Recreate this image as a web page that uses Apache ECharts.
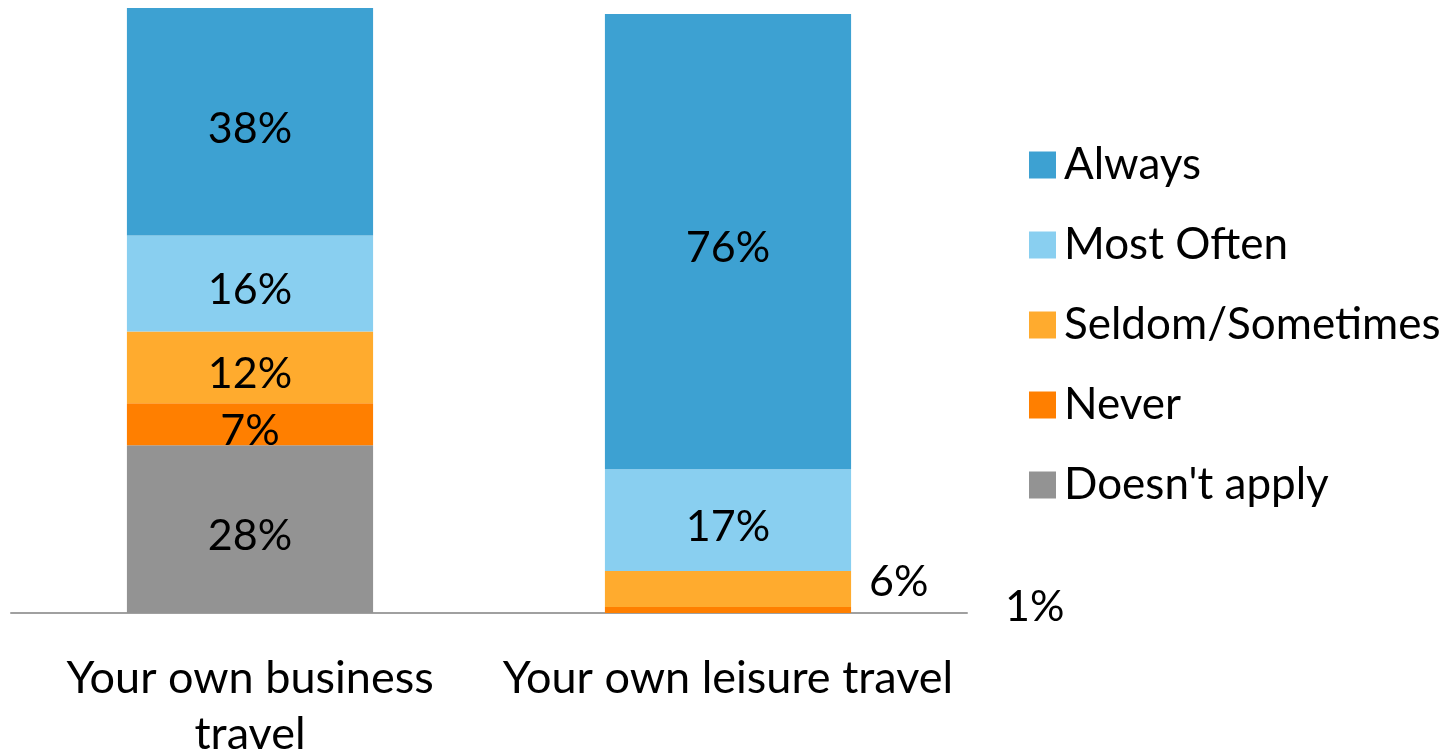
<!DOCTYPE html>
<html>
<head>
<meta charset="utf-8">
<script src="https://cdn.jsdelivr.net/npm/echarts@6/dist/echarts.min.js"></script>
<style>
  html, body { margin: 0; padding: 0; background: #fff; }
  #chart { width: 1448px; height: 752px; }
</style>
</head>
<body>
<div id="chart"></div>
<script>
// Travel booking frequency, stacked share per travel type (%)
const categories = ['Your own business travel', 'Your own leisure travel'];
const categoryLabels = ['Your own business\ntravel', 'Your own leisure travel'];
const seriesNames = ['Always', 'Most Often', 'Seldom/Sometimes', 'Never', "Doesn't apply"];
const doesntApply = [28, null];
const never = [7, 1];
const seldom = [12, 6];
const mostOften = [16, 17];
const always = [38, 76];

const FONT = 'Lato, "Open Sans", sans-serif';
const colors = {
  'Always': '#3DA1D2',
  'Most Often': '#89CFF0',
  'Seldom/Sometimes': '#FFAB2E',
  'Never': '#FF7F00',
  "Doesn't apply": '#939393'
};

const insideLabel = {
  show: true,
  position: 'inside',
  offset: [0, 7],
  formatter: p => p.value + '%',
  color: '#000',
  fontFamily: FONT,
  fontSize: 43
};

function makeSeries(name, values, extraLabels) {
  return {
    name: name,
    type: 'bar',
    stack: 'total',
    barWidth: '51.5%',
    itemStyle: { color: colors[name] },
    label: insideLabel,
    data: values.map((v, i) => {
      const item = { value: v };
      if (extraLabels && extraLabels[i]) item.label = extraLabels[i];
      return item;
    })
  };
}

const chart = echarts.init(document.getElementById('chart'), null, { renderer: 'canvas' });
chart.setOption({
  animation: false,
  backgroundColor: '#fff',
  grid: { left: 11, right: 481, top: 8, bottom: 139, containLabel: false, outerBoundsMode: 'none' },
  legend: {
    orient: 'vertical',
    left: 1024,
    top: 135,
    itemWidth: 27,
    itemHeight: 27,
    itemGap: 30,
    icon: 'rect',
    data: seriesNames,
    textStyle: { fontFamily: FONT, fontSize: 44, color: '#000', lineHeight: 50, padding: [0, 0, 0, 3] }
  },
  xAxis: {
    type: 'category',
    data: categories,
    axisLine: { lineStyle: { color: '#A0A0A0', width: 2 } },
    axisTick: { show: false },
    axisLabel: {
      interval: 0,
      hideOverlap: false,
      formatter: (v, i) => categoryLabels[i],
      fontFamily: FONT,
      fontSize: 45,
      lineHeight: 56,
      color: '#000',
      margin: 37
    }
  },
  yAxis: {
    type: 'value',
    min: 0,
    max: 101,
    show: false,
    splitLine: { show: false }
  },
  series: [
    makeSeries("Doesn't apply", doesntApply),
    makeSeries('Never', never, [null, { position: 'right', distance: 154, offset: [0, -3] }]),
    makeSeries('Seldom/Sometimes', seldom, [null, { position: 'right', distance: 18, offset: [0, -7] }]),
    makeSeries('Most Often', mostOften),
    makeSeries('Always', always)
  ]
});
</script>
</body>
</html>
